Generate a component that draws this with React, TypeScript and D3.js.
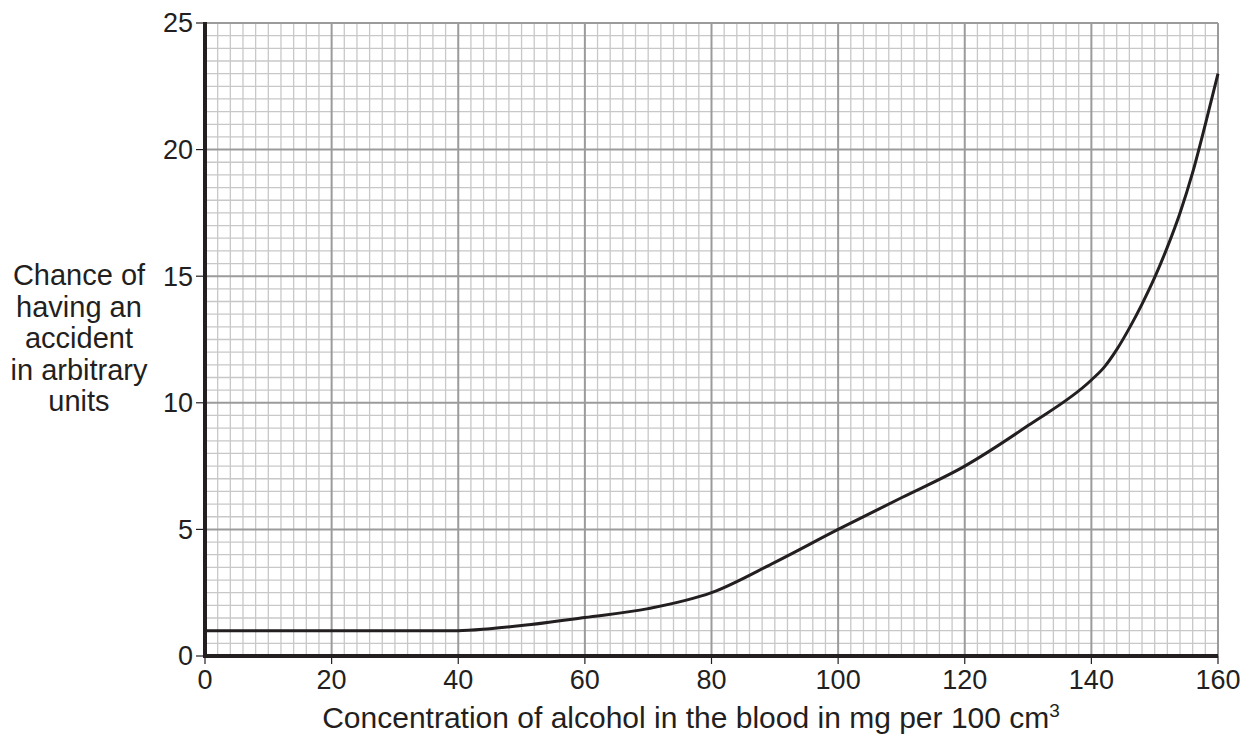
import * as d3 from "d3"

// Values
const concentration = [0, 40, 45, 50, 60, 70, 80, 90, 100, 110, 120, 130, 140, 142, 144, 146, 148, 150, 152, 154, 156, 158, 160]
const accidentChance = [1, 1, 1.08, 1.2, 1.52, 1.87, 2.5, 3.7, 5, 6.25, 7.5, 9.1, 10.9, 11.4, 12.1, 12.95, 13.9, 14.95, 16.15, 17.5, 19.1, 21.0, 23.0]

const xTicks = [0, 20, 40, 60, 80, 100, 120, 140, 160]
const yTicks = [0, 5, 10, 15, 20, 25]
const yTitleLines = ["Chance of", "having an", "accident", "in arbitrary", "units"]

const W = 1254
const H = 738
const margin = { top: 23, right: 36, bottom: 82, left: 205 }

const FONT = "'Liberation Sans', Arial, Helvetica, sans-serif"
const INK = "#231f20"

export default function App() {
  const x = d3.scaleLinear().domain([0, 160]).range([margin.left, W - margin.right])
  const y = d3.scaleLinear().domain([0, 25]).range([H - margin.bottom, margin.top])

  const minorX = d3.range(0, 161, 2)
  const minorY = d3.range(0, 25.01, 0.5)

  const data = concentration.map((c, i) => [c, accidentChance[i]] as [number, number])
  const line = d3
    .line<[number, number]>()
    .x((d) => x(d[0]))
    .y((d) => y(d[1]))
    .curve(d3.curveMonotoneX)

  const [x0, x1] = x.range()
  const [y0, y1] = y.range()

  return (
    <div style={{ position: "absolute", left: 0, top: 0 }}>
      <svg width={W} height={H} style={{ display: "block", background: "#fff" }}>
        {/* minor grid */}
        <g stroke="#c8c8c8" strokeWidth={1.3}>
          {minorX.filter((v) => v % 20 !== 0).map((v) => (
            <line key={"mx" + v} x1={x(v)} x2={x(v)} y1={y0} y2={y1} />
          ))}
          {minorY.filter((v) => v % 5 !== 0).map((v) => (
            <line key={"my" + v} x1={x0} x2={x1} y1={y(v)} y2={y(v)} />
          ))}
        </g>
        {/* major grid */}
        <g stroke="#9b9b9b" strokeWidth={2}>
          {xTicks.filter((v) => v !== 0).map((v) => (
            <line key={"Mx" + v} x1={x(v)} x2={x(v)} y1={y0} y2={y1} />
          ))}
          {yTicks.filter((v) => v !== 0).map((v) => (
            <line key={"My" + v} x1={x0} x2={x1} y1={y(v)} y2={y(v)} />
          ))}
        </g>

        {/* curve */}
        <path d={line(data) ?? ""} fill="none" stroke={INK} strokeWidth={3} strokeLinejoin="round" />

        {/* axes */}
        <line x1={x0} x2={x0} y1={y1 - 1} y2={y0 + 2} stroke={INK} strokeWidth={4} />
        <line x1={x0} x2={x1} y1={y0} y2={y0} stroke={INK} strokeWidth={4} />

        {/* y ticks */}
        <g fontFamily={FONT} fontSize={27} fill={INK}>
          {yTicks.map((v) => (
            <g key={"yt" + v}>
              <line x1={x0 - 9} x2={x0} y1={y(v)} y2={y(v)} stroke={INK} strokeWidth={1.2} />
              <text x={193} y={y(v)} dy="0.35em" textAnchor="end">
                {v}
              </text>
            </g>
          ))}
        </g>

        {/* x ticks */}
        <g fontFamily={FONT} fontSize={27} fill={INK}>
          {xTicks.map((v) => (
            <g key={"xt" + v}>
              <line x1={x(v)} x2={x(v)} y1={y0} y2={y0 + 8} stroke={INK} strokeWidth={1.2} />
              <text x={x(v)} y={689} textAnchor="middle">
                {v}
              </text>
            </g>
          ))}
        </g>

        {/* axis titles */}
        <text x={691} y={728} textAnchor="middle" fontFamily={FONT} fontSize={30} fill={INK}>
          Concentration of alcohol in the blood in mg per 100 cm
          <tspan fontSize={19} dy={-11}>3</tspan>
        </text>
        <text fontFamily={FONT} fontSize={29} fill={INK} textAnchor="middle">
          {yTitleLines.map((t, i) => (
            <tspan key={t} x={79} y={285 + i * 31.5}>
              {t}
            </tspan>
          ))}
        </text>
      </svg>
    </div>
  )
}
